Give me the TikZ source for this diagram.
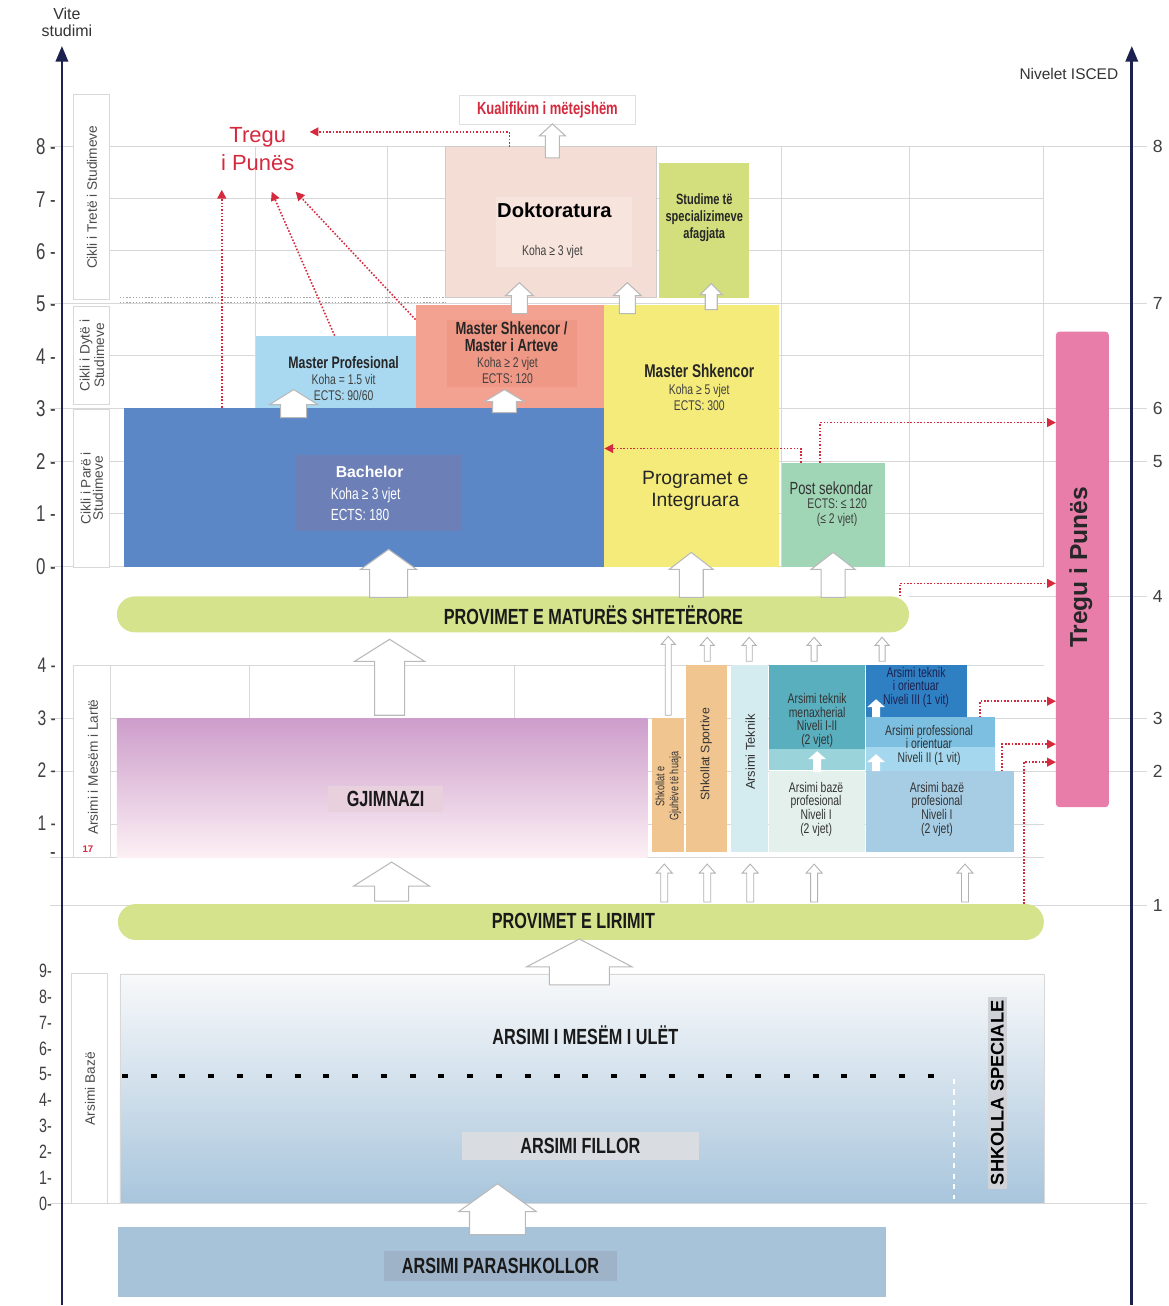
\documentclass[tikz,border=0pt]{standalone}
\usepackage{fontspec}
\setmainfont{Liberation Sans}
\newfontfamily\cond[FakeStretch=0.74]{Liberation Sans}
\usepackage{xcolor}
\usepackage{tikz}
\usetikzlibrary{positioning,fit,arrows.meta}
\definecolor{AxisNavy}{HTML}{1C2150}
\definecolor{GridGray}{HTML}{D8D8D8}
\definecolor{MarketRed}{HTML}{D52A3E}
\definecolor{DokPink}{HTML}{F3DDD4}
\definecolor{DokInner}{HTML}{F7E4DC}
\definecolor{SpecGreen}{HTML}{D2DF7C}
\definecolor{MProfBlue}{HTML}{A9D9F1}
\definecolor{MShkSalmon}{HTML}{F3A191}
\definecolor{MShkInner}{HTML}{F09886}
\definecolor{IntYellow}{HTML}{F4EB7B}
\definecolor{BachBlue}{HTML}{5C87C6}
\definecolor{BachInner}{HTML}{6C80B7}
\definecolor{PostGreen}{HTML}{A0D5B5}
\definecolor{TreguPink}{HTML}{E87DAA}
\definecolor{ExamGreen}{HTML}{D5E38C}
\definecolor{GjimTop}{HTML}{CD9DCB}
\definecolor{GjimBot}{HTML}{FCF0F4}
\definecolor{GjimLabel}{HTML}{E9D0DD}
\definecolor{LangOrange}{HTML}{F1C590}
\definecolor{TekCyan}{HTML}{D4EBEF}
\definecolor{MenTeal}{HTML}{5AAFBF}
\definecolor{MenBand}{HTML}{9BD3DA}
\definecolor{BazLight}{HTML}{E4F0EC}
\definecolor{TekBlue}{HTML}{2F80C3}
\definecolor{ProfBlue}{HTML}{7CBFE0}
\definecolor{ProfBand}{HTML}{A5D8EF}
\definecolor{BazBlue}{HTML}{A7CDE5}
\definecolor{BaseTop}{HTML}{F8F9FA}
\definecolor{BaseMid}{HTML}{EEF1F5}
\definecolor{BaseBot}{HTML}{A8C5DC}
\definecolor{FillorGray}{HTML}{D9DDE2}
\definecolor{PreBlue}{HTML}{A7C3DA}
\definecolor{PreLabel}{HTML}{9EB3C8}
\definecolor{SpecStrip}{HTML}{CFD3D8}

% block arrow: style, x, base, tip, shaft half, head half, head length
\newcommand{\blkarrow}[7]{%
  \draw[#1] (#2-#5,#3) -- (#2-#5,#4+#7) -- (#2-#6,#4+#7) -- (#2,#4)
        -- (#2+#6,#4+#7) -- (#2+#5,#4+#7) -- (#2+#5,#3) -- cycle;}

\begin{document}
\begin{tikzpicture}[x=0.02cm, y=-0.02cm,
                    every node/.style={inner sep=1pt, align=center},
                    area/.style={inner sep=0pt, outer sep=0pt},
                    ttl/.style={font=\cond\bfseries\fontsize{9.5}{10}\selectfont, text=black!85},
                    sml/.style={font=\cond\fontsize{8}{9}\selectfont, text=black!75},
                    voc/.style={font=\cond\fontsize{8}{7.8}\selectfont, text=black!80},
                    capsl/.style={font=\cond\bfseries\fontsize{12.5}{14}\selectfont, text=black!90},
                    side/.style={font=\fontsize{7.8}{7}\selectfont, rotate=90, text=black!70},
                    ticklbl/.style={font=\cond\fontsize{13}{13}\selectfont, anchor=east, text=black!75},
                    sidebox/.style={area, draw=GridGray, line width=0.6pt, fill=white},
                    gridln/.style={draw=GridGray, line width=0.5pt},
                    redarr/.style={draw=MarketRed, densely dotted, line width=0.9pt,
                                   -{Triangle[length=5pt,width=5pt]}},
                    blk/.style={fill=white, draw=gray!55, line width=0.6pt},
                    slimarr/.style={fill=white, draw=gray!60, line width=0.5pt},
                    whitearr/.style={fill=white, draw=none},
                    axisln/.style={draw=AxisNavy, line width=1.6pt,
                                   -{Triangle[length=9pt,width=7pt]}}]
\fill[white] (0,0) rectangle (1170,1306);

% grid
\foreach \yy in {199,251,356,514,666,825} \draw[gridln] (110,\yy) -- (1045,\yy);
\foreach \xx in {256,388,782,910,1045} \draw[gridln] (\xx,147) -- (\xx,567);
\foreach \xx in {250,515} \draw[gridln] (\xx,666) -- (\xx,719);
\foreach \yy in {147,304,409,462,719,772,906,1205} \draw[gridln] (50,\yy) -- (1148,\yy);
\foreach \yy in {567,858} \draw[gridln] (50,\yy) -- (1045,\yy);
\draw[gridln] (910,597) -- (1148,597);
\draw[gray!70, densely dotted, line width=0.8pt] (120,298) -- (446,298) (120,303) -- (446,303);

% side labels
\node[sidebox, fit={(74,95)(110,300)}] (c3box) {};
\node[side] (c3) at (c3box.center) {Cikli i Tretë i Studimeve};
\node[sidebox, fit={(74,307)(110,405)}] (c2box) {};
\node[side] (c2) at (c2box.center) {Cikli i Dytë i\\Studimeve};
\node[sidebox, fit={(74,410)(110,568)}] (c1box) {};
\node[side] (c1) at (c1box.center) {Cikli i Parë i\\Studimeve};
\node[sidebox, fit={(74,666)(111,858)}] (amlbox) {};
\node[side] (aml) at (93,768) {Arsimi i Mesëm i Lartë};
\node[font=\bfseries\fontsize{5.5}{6}\selectfont, text=MarketRed] (age) at (88,850) {17};
\node[sidebox, fit={(72,975)(108,1205)}] (abbox) {};
\node[side] (ab) at (abbox.center) {Arsimi Bazë};

% third cycle
\node[area, fill=DokPink, draw=gray!40, fit={(446,147)(657,298)}] (dok) {};
\node[area, fill=DokInner, fit={(497,197)(633,267)}] (dokin) {};
\node[font=\bfseries\fontsize{11.5}{13}\selectfont] (doktxt) at (555,211) {Doktoratura};
\node[sml] (dokkoha) at (553,252) {Koha ≥ 3 vjet};
\node[area, fill=SpecGreen, fit={(660,163)(750,298)}] (spec) {};
\node[font=\cond\bfseries\fontsize{8.5}{9.5}\selectfont, text=black!85] (spectxt) at (705,218)
  {Studime të\\specializimeve\\afagjata};
\node[fill=white, draw=gray!25, minimum width=3.52cm, minimum height=0.58cm, text=MarketRed,
      font=\cond\bfseries\fontsize{10}{11}\selectfont] (kual) at (548,110) {Kualifikim i mëtejshëm};
\node[font=\fontsize{12.5}{16}\selectfont, text=MarketRed] (treg) at (258,149) {Tregu\\i Punës};

% second cycle
\node[area, fill=MProfBlue, fit={(256,336)(416,408)}] (mprof) {};
\node[ttl] (mproft) at (344,363) {Master Profesional};
\node[sml] (mprofk) at (344,388) {Koha = 1.5 vit\\ECTS: 90/60};
\node[area, fill=MShkSalmon, fit={(416,305)(605,408)}] (mshk) {};
\node[area, fill=MShkInner, fit={(447,320)(578,387)}] (mshkin) {};
\node[ttl, font=\cond\bfseries\fontsize{10}{9.5}\selectfont] (mshkt) at (512,337) {Master Shkencor /\\Master i Arteve};
\node[sml] (mshkk) at (508,371) {Koha ≥ 2 vjet\\ECTS: 120};
\node[area, fill=IntYellow, fit={(605,305)(780,568)}] (integ) {};
\node[ttl, font=\cond\bfseries\fontsize{10.5}{11}\selectfont] (integt) at (700,371) {Master Shkencor};
\node[sml] (integk) at (700,398) {Koha ≥ 5 vjet\\ECTS: 300};
\node[font=\fontsize{11}{12.5}\selectfont, text=black!85] (integp) at (696,491) {Programet e\\Integruara};

% first cycle
\node[area, fill=BachBlue, fit={(124,408)(605,568)}] (bach) {};
\node[area, fill=BachInner, fit={(295,455)(462,532)}] (bachin) {};
\node[font=\bfseries\fontsize{9}{10}\selectfont, text=white] (bacht) at (370,472) {Bachelor};
\node[font=\cond\fontsize{9.2}{12}\selectfont, text=white, align=left] (bachk) at (366,505) {Koha ≥ 3 vjet\\ECTS: 180};
\node[area, fill=PostGreen, fit={(783,463)(886,568)}] (post) {};
\node[font=\cond\fontsize{10}{11}\selectfont, text=black!80] (postt) at (832,489) {Post sekondar};
\node[sml] (postk) at (838,513) {ECTS: ≤ 120\\(≤ 2 vjet)};
\node[area, fill=TreguPink, rounded corners=2pt, fit={(1057,332)(1110,808)}] (tregu) {};
\node[rotate=90, font=\bfseries\fontsize{14}{16}\selectfont, text=black!85] (tregut) at (1082,568) {Tregu i Punës};

% upper secondary
\node[area, fill=ExamGreen, rounded corners=0.36cm, fit={(117,597)(910,633)}] (matura) {};
\node[capsl] (maturat) at (594,616) {PROVIMET E MATURËS SHTETËRORE};
\node[area, top color=GjimTop, bottom color=GjimBot, fit={(117,719)(648,858)}] (gjim) {};
\node[capsl, fill=GjimLabel, minimum width=2.3cm, minimum height=0.52cm] (gjimt) at (386,800) {GJIMNAZI};
\node[area, fill=LangOrange, fit={(653,719)(685,853)}] (gjuhe) {};
\node[rotate=90, font=\cond\fontsize{7}{8}\selectfont, text=black!80] (gjuhet) at (669,787) {Shkollat e\\Gjuhëve të huaja};
\node[area, fill=LangOrange, fit={(687,666)(728,853)}] (sport) {};
\node[rotate=90, font=\fontsize{7}{8}\selectfont, text=black!80] (sportt) at (707,755) {Shkollat Sportive};
\node[area, fill=TekCyan, fit={(732,666)(769,853)}] (tek) {};
\node[rotate=90, font=\fontsize{7.3}{8}\selectfont, text=black!80] (tekt) at (751,753) {Arsimi Teknik};
\node[area, fill=MenTeal, fit={(770,666)(866,750)}] (menax) {};
\node[area, fill=MenBand, fit={(770,750)(866,771)}] (menaxb) {};
\node[voc] (menaxt) at (818,721) {Arsimi teknik\\menaxherial\\Niveli I-II\\(2 vjet)};
\node[area, fill=BazLight, fit={(770,772)(866,853)}] (bazl) {};
\node[voc] (bazlt) at (817,810) {Arsimi bazë\\profesional\\Niveli I\\(2 vjet)};
\node[area, fill=TekBlue, fit={(867,666)(968,718)}] (tek3) {};
\node[voc, text=AxisNavy] (tek3t) at (917,688) {Arsimi teknik\\i orientuar\\Niveli III (1 vit)};
\node[area, fill=ProfBlue, fit={(867,718)(996,748)}] (prof2) {};
\node[area, fill=ProfBand, fit={(867,748)(996,772)}] (prof2b) {};
\node[voc] (prof2t) at (930,746) {Arsimi professional\\i orientuar\\Niveli II (1 vit)};
\node[area, fill=BazBlue, fit={(867,772)(1015,853)}] (bazr) {};
\node[voc] (bazrt) at (938,810) {Arsimi bazë\\profesional\\Niveli I\\(2 vjet)};

% basic education
\node[area, fill=ExamGreen, rounded corners=0.36cm, fit={(118,905)(1045,941)}] (lirimit) {};
\node[capsl] (lirimitt) at (574,922) {PROVIMET E LIRIMIT};
\node[area, draw=GridGray, top color=BaseTop, middle color=BaseMid, bottom color=BaseBot,
      fit={(120,975)(1045,1205)}] (baze) {};
\node[capsl] (ulet) at (586,1036) {ARSIMI I MESËM I ULËT};
\draw[black, line width=2pt, dash pattern=on 3.4pt off 13pt] (122,1077) -- (935,1077);
\node[capsl, fill=FillorGray, minimum width=4.74cm, minimum height=0.56cm] (fillor) at (581,1147) {ARSIMI FILLOR};
\draw[white, dashed, line width=0.8pt] (955,1080) -- (955,1200);
\node[area, fill=SpecStrip, fit={(989,998)(1008,1190)}] (specstrip) {};
\node[rotate=90, font=\bfseries\fontsize{10.4}{12}\selectfont] (spect) at (specstrip.center) {SHKOLLA SPECIALE};
\node[area, fill=PreBlue, fit={(118,1228)(887,1298)}] (pre) {};
\node[capsl, fill=PreLabel, minimum width=4.66cm, minimum height=0.6cm] (pret) at (501,1267) {ARSIMI PARASHKOLLOR};

% block arrows
\blkarrow{blk}{553}{158}{124}{7}{13}{12}
\blkarrow{blk}{520}{314}{283}{8}{14}{13}
\blkarrow{blk}{628}{314}{283}{8}{14}{13}
\blkarrow{blk}{712}{310}{284}{6}{11}{11}
\blkarrow{blk}{294}{418}{390}{13}{24}{15}
\blkarrow{blk}{505}{413}{390}{12}{20}{12}
\blkarrow{blk}{389}{598}{550}{19}{28}{20}
\blkarrow{blk}{692}{598}{553}{12}{22}{17}
\blkarrow{blk}{834}{598}{553}{12}{22}{17}
\blkarrow{blk}{390}{716}{640}{15}{35}{22}
\blkarrow{blk}{392}{902}{863}{17}{38}{24}
\blkarrow{blk}{580}{986}{940}{30}{53}{28}
\blkarrow{blk}{498}{1236}{1185}{28}{39}{28}
\blkarrow{slimarr}{669}{716}{637}{3}{7}{8}
\foreach \xx in {708,750,815,883} {\blkarrow{slimarr}{\xx}{662}{638}{3}{7}{8}}
\foreach \xx in {665,708,751,815,966} {\blkarrow{slimarr}{\xx}{903}{865}{3.5}{8}{9}}
\blkarrow{whitearr}{818}{773}{752}{4}{9}{8}
\blkarrow{whitearr}{877}{718}{700}{4}{9}{8}
\blkarrow{whitearr}{877}{772}{755}{4}{9}{8}

% paths to the labour market
\coordinate (tgTop) at (310,132);
\coordinate (tgLeft) at (222,190);
\coordinate (tgMid) at (272,192);
\coordinate (tgRight) at (296,192);
\draw[redarr] ([xshift=-0.83cm]dok.north) |- (tgTop);
\draw[redarr] (bach.north -| tgLeft) -- (tgLeft);
\draw[redarr] ([xshift=-0.02cm]mprof.north) -- (tgMid);
\draw[redarr] ([yshift=-0.3cm]mshk.north west) -- (tgRight);
\draw[redarr] ([xshift=-0.65cm]post.north) |- ([yshift=-0.25cm]integ.west);
\draw[redarr] ([xshift=-0.27cm]post.north) |- ([yshift=2.94cm]tregu.west);
\draw[redarr] ([xshift=7.75cm]matura.north) |- ([yshift=-0.28cm]tregu.west);
\draw[redarr] ([xshift=0.99cm]prof2.north) |- ([yshift=-2.64cm]tregu.west);
\draw[redarr] ([xshift=1.24cm]bazr.north) |- ([yshift=-3.5cm]tregu.west);
\draw[redarr] ([xshift=8.87cm]lirimit.north) |- ([yshift=-3.86cm]tregu.west);

% axes and ticks
\coordinate (lbot) at (62,1306);
\coordinate (ltop) at (62,46);
\coordinate (rbot) at (1133,1306);
\coordinate (rtop) at (1133,46);
\draw[axisln] (lbot) -- (ltop);
\draw[axisln] (rbot) -- (rtop);
\node[font=\fontsize{9.1}{9.5}\selectfont, text=black!80] (vite) at (67,22) {Vite\\studimi};
\node[font=\fontsize{8.8}{10}\selectfont, text=black!80] (isced) at (1070,74) {Nivelet ISCED};
\foreach \n in {0,...,8} \node[ticklbl] (lt\n) at (58,567-52.5*\n) {\n\ -};
\foreach \n in {1,...,4} \node[ticklbl, font=\cond\fontsize{12}{12}\selectfont] (lm\n) at (58,877-52.8*\n) {\n\ -};
\node[ticklbl] (lm0) at (58,857) {-};
\foreach \n in {0,...,9} \node[ticklbl, font=\cond\fontsize{11}{11}\selectfont] (lb\n) at (54,1205-25.9*\n) {\n-};
\foreach \n/\yy in {8/147,7/304,6/409,5/462,4/597,3/719,2/772,1/906}
  \node[font=\fontsize{10}{10}\selectfont, text=black!75] (r\n) at (1159,\yy) {\n};
\end{tikzpicture}
\end{document}
